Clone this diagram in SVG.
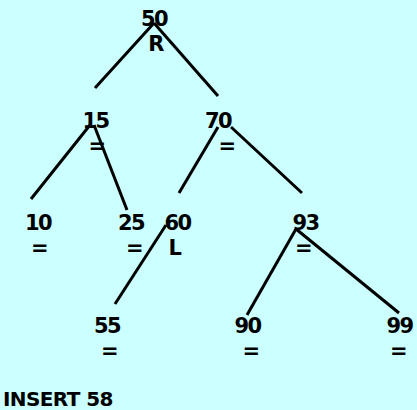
<svg xmlns="http://www.w3.org/2000/svg" width="417" height="410" viewBox="0 0 417 410">
<style>
text{font-family:"DejaVu Sans",Verdana,sans-serif;font-weight:bold;font-size:21px;letter-spacing:-1.5px;fill:#000;text-anchor:middle}
.e{stroke:#000;stroke-width:3;fill:none}
</style>
<rect width="417" height="410" fill="#CCFFFF"/>
<g id="connectors">
<line class="e" x1="154" y1="23" x2="95" y2="88"/>
<line class="e" x1="154" y1="23" x2="218" y2="96"/>
<line class="e" x1="90" y1="125" x2="31" y2="199"/>
<line class="e" x1="94" y1="125" x2="127" y2="210"/>
<line class="e" x1="218" y1="127" x2="179" y2="193"/>
<line class="e" x1="231" y1="127" x2="302" y2="193"/>
<line class="e" x1="166" y1="225" x2="115" y2="304"/>
<line class="e" x1="296" y1="229" x2="247" y2="315"/>
<line class="e" x1="296" y1="229" x2="399" y2="313"/>
</g>
<g id="n50"><text x="154" y="26">50</text><text x="155.5" y="51">R</text></g>
<g id="n15"><text x="95.5" y="128">15</text><text x="96.5" y="153">=</text></g>
<g id="n70"><text x="218" y="128">70</text><text x="226.5" y="153">=</text></g>
<g id="n10"><text x="38" y="230">10</text><text x="39" y="255">=</text></g>
<g id="n25"><text x="131" y="230">25</text><text x="134" y="255">=</text></g>
<g id="n60"><text x="177.5" y="230">60</text><text x="174.5" y="255">L</text></g>
<g id="n93"><text x="305.5" y="230">93</text><text x="303" y="255">=</text></g>
<g id="n55"><text x="107" y="333">55</text><text x="109" y="358">=</text></g>
<g id="n90"><text x="247.5" y="333">90</text><text x="250.5" y="358">=</text></g>
<g id="n99"><text x="399.5" y="333">99</text><text x="398" y="358">=</text></g>
<g id="caption"><text x="3" y="406" style="text-anchor:start;font-size:20px;letter-spacing:-0.6px">INSERT 58</text></g>
</svg>
